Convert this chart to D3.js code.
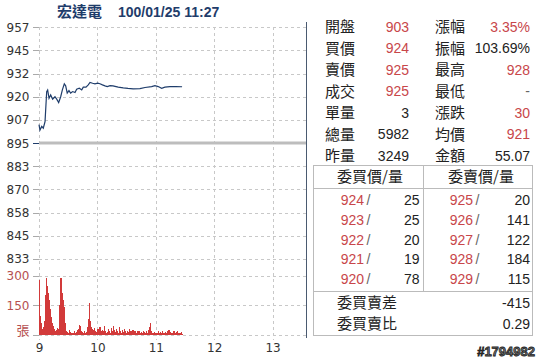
<!DOCTYPE html>
<html>
<head>
<meta charset="utf-8">
<script src="https://cdn.jsdelivr.net/npm/d3@7/dist/d3.min.js"></script>
<style>
  html, body { margin: 0; padding: 0; background: #fff; }
  svg { display: block; }
</style>
</head>
<body>
<div id="chart"></div>
<script>
// ---- data ----
const title = "宏達電";
const stamp = "100/01/25 11:27";
const prevClose = 895;

// minutes after 09:00, last price
const priceMinutes = [0, 1, 2.8, 4.4, 6.2, 7.9, 8.9, 10.3, 12, 14, 16.4, 18.2, 20.2, 22.3, 24, 26, 27.4, 29, 30.8, 32.5,
  34.6, 37, 38.7, 41.4, 43.9, 45.5, 48.3, 50.6, 52.4, 55.1, 57.5, 60.3, 62.6, 65.2, 67.8, 70.2, 73, 76, 81.4, 86.6,
  91.4, 96.8, 103.7, 108.9, 115.7, 119.1, 122.5, 126, 129.4, 134.5, 140.7, 147];
const priceValues = [905, 902, 904, 903, 906.6, 922.8, 923.7, 919.2, 921, 918.7, 920, 918.7, 916.9, 920, 923.7, 927, 925.9, 922, 923.3, 922,
  922.8, 922.3, 924.1, 924.6, 923.7, 925.2, 925.2, 926.4, 927.7, 927.3, 927, 927.3, 927, 926.4, 925.9, 925.5, 926, 925.9, 925.2, 924.8,
  924.5, 924.3, 924.4, 925, 925.5, 926, 925.5, 924.6, 925.2, 925.5, 925.5, 925.4];

// per-minute volume (張), minute 0 = 09:00
const volumes = [280, 95, 60, 30, 40, 70, 200, 290, 250, 210, 175, 130, 90, 60, 45, 30, 20, 25, 35, 15,
  30, 150, 290, 210, 175, 140, 60, 30, 20, 15, 10, 25, 15, 10, 8, 12, 20, 10, 15, 25,
  30, 50, 45, 20, 15, 10, 18, 12, 15, 40, 80, 160, 70, 40, 30, 25, 35, 20, 15, 10,
  30, 15, 40, 20, 12, 25, 18, 45, 20, 10, 15, 30, 22, 12, 35, 18, 48, 25, 15, 30,
  20, 10, 40, 18, 12, 25, 15, 30, 20, 10, 22, 15, 28, 12, 18, 10, 25, 15, 20, 12,
  10, 18, 14, 22, 10, 16, 12, 20, 14, 10, 18, 12, 25, 40, 60, 20, 12, 10, 15, 8,
  12, 10, 18, 8, 14, 10, 20, 12, 8, 15, 10, 12, 18, 25, 15, 10, 8, 12, 20, 10,
  8, 14, 22, 10, 12, 8, 15, 6];

const priceTicks = [957.5, 945, 932.5, 920, 907.5, 895, 882.5, 870, 857.5, 845, 832.5];
const priceTickLabels = ["957", "945", "932", "920", "907", "895", "883", "870", "858", "845", "833"];
const volTicks = [300, 150, 0];
const volTickLabels = ["300", "150", "張"];
const hourTicks = [0, 60, 120, 180, 240];
const hourLabels = ["9", "10", "11", "12", "13"];

const statLabelsL = ["開盤", "買價", "賣價", "成交", "單量", "總量", "昨量"];
const statValuesL = ["903", "924", "925", "925", "3", "5982", "3249"];
const statRedL = [true, true, true, true, false, false, false];
const statLabelsR = ["漲幅", "振幅", "最高", "最低", "漲跌", "均價", "金額"];
const statValuesR = ["3.35%", "103.69%", "928", "-", "30", "921", "55.07"];
const statRedR = [true, false, true, false, true, true, false];

const bidPrices = [924, 923, 922, 921, 920];
const bidVols = [25, 25, 20, 19, 78];
const askPrices = [925, 926, 927, 928, 929];
const askVols = [20, 141, 122, 184, 115];
const bookHeaders = ["委買價/量", "委賣價/量"];
const bookSummaryLabels = ["委買賣差", "委買賣比"];
const bookSummaryValues = ["-415", "0.29"];
const watermark = "#1794982";

// ---- drawing ----
const W = 543, H = 359;
const RED = "#c8464a", INK = "#222", NAVY = "#1f3d6b";
const CJK = "'Noto Sans CJK TC', 'Noto Sans CJK SC', sans-serif";
const NUM = "'Liberation Sans', Arial, sans-serif";
const AX = "'DejaVu Sans', Verdana, sans-serif";

const svg = d3.select("#chart").append("svg")
  .attr("width", W).attr("height", H);
svg.append("rect").attr("width", W).attr("height", H).attr("fill", "#fff");

const plotL = 39, plotR = 306;
const x = d3.scaleLinear().domain([0, 270]).range([plotL, 301.8]);
const yP = d3.scaleLinear().domain([832.5, 957.5]).range([258.8, 27.3]);
const yV = d3.scaleLinear().domain([0, 300]).range([335, 275.7]);

// title
svg.append("text").attr("x", 57).attr("y", 17)
  .attr("font-family", CJK).attr("font-size", 15).attr("font-weight", "bold")
  .attr("fill", NAVY).text(title);
svg.append("text").attr("x", 118).attr("y", 16.5)
  .attr("font-family", NUM).attr("font-size", 14).attr("font-weight", "bold")
  .attr("fill", NAVY).text(stamp);

const grid = svg.append("g").attr("stroke", "#c8c8c8").attr("stroke-dasharray", "3,3").attr("stroke-width", 1);

// horizontal price grid
grid.selectAll("line.hp").data(priceTicks).join("line").attr("class", "hp")
  .attr("x1", plotL).attr("x2", plotR)
  .attr("y1", d => Math.round(yP(d)) + 0.5).attr("y2", d => Math.round(yP(d)) + 0.5);
// volume grid
grid.selectAll("line.hv").data(volTicks).join("line").attr("class", "hv")
  .attr("x1", plotL).attr("x2", plotR)
  .attr("y1", d => Math.round(yV(d)) + 0.5).attr("y2", d => Math.round(yV(d)) + 0.5);
// vertical hour grid
grid.selectAll("line.vh").data(hourTicks).join("line").attr("class", "vh")
  .attr("x1", d => Math.round(x(d)) + 0.5).attr("x2", d => Math.round(x(d)) + 0.5)
  .attr("y1", 27).attr("y2", 340);

// axis ticks and labels (left)
const ax = svg.append("g");
ax.selectAll("line.tp").data(priceTicks).join("line").attr("class", "tp")
  .attr("x1", 33).attr("x2", plotL)
  .attr("y1", d => Math.round(yP(d)) + 0.5).attr("y2", d => Math.round(yP(d)) + 0.5)
  .attr("stroke", d => d === prevClose ? NAVY : "#aaa");
ax.selectAll("text.lp").data(priceTicks).join("text").attr("class", "lp")
  .attr("x", 29.5).attr("y", d => yP(d) + 4.5)
  .attr("text-anchor", "end").attr("font-family", AX).attr("font-size", 12)
  .attr("fill", "#333").text((d, i) => priceTickLabels[i]);
ax.selectAll("line.tv").data(volTicks).join("line").attr("class", "tv")
  .attr("x1", 33).attr("x2", plotL)
  .attr("y1", d => Math.round(yV(d)) + 0.5).attr("y2", d => Math.round(yV(d)) + 0.5)
  .attr("stroke", "#aaa");
ax.selectAll("text.lv").data(volTicks).join("text").attr("class", "lv")
  .attr("x", 29.5).attr("y", d => yV(d) + (d === 0 ? 0 : 4.5))
  .attr("text-anchor", "end").attr("font-family", (d, i) => i === 2 ? CJK : AX)
  .attr("font-size", (d, i) => i === 2 ? 13 : 12)
  .attr("fill", "#b65050").text((d, i) => volTickLabels[i]);
ax.selectAll("text.lx").data(hourTicks).join("text").attr("class", "lx")
  .attr("x", d => x(d) + 0.5).attr("y", 352)
  .attr("text-anchor", "middle").attr("font-family", AX).attr("font-size", 12)
  .attr("fill", "#333").text((d, i) => hourLabels[i]);

// previous close reference line
svg.append("line")
  .attr("x1", plotL).attr("x2", plotR)
  .attr("y1", yP(prevClose)).attr("y2", yP(prevClose))
  .attr("stroke", "#bdbdbd").attr("stroke-width", 3);

// volume bars
svg.append("g").attr("shape-rendering", "crispEdges")
  .selectAll("rect").data(volumes).join("rect")
  .attr("x", (d, i) => x(i))
  .attr("width", 1.2)
  .attr("y", d => yV(d))
  .attr("height", d => yV(0) - yV(d))
  .attr("fill", "#d23a3a");

// price line
const pts = priceMinutes.map((m, i) => [m, priceValues[i]]);
svg.append("path").datum(pts)
  .attr("fill", "none").attr("stroke", NAVY).attr("stroke-width", 1.2)
  .attr("d", d3.line().x(d => x(d[0])).y(d => yP(d[1])));

// panel divider
svg.append("line").attr("x1", 306.5).attr("x2", 306.5).attr("y1", 22).attr("y2", 338)
  .attr("stroke", "#4a5a70").attr("stroke-width", 1);

// stats table
const rowY = d3.scaleLinear().domain([0, 6]).range([26.5, 155.5]);
const stats = svg.append("g");
stats.selectAll("text.sl1").data(statLabelsL).join("text").attr("class", "sl1")
  .attr("x", 325).attr("y", (d, i) => rowY(i) + 5.5)
  .attr("font-family", CJK).attr("font-size", 15).attr("fill", INK).text(d => d);
stats.selectAll("text.sv1").data(statValuesL).join("text").attr("class", "sv1")
  .attr("x", 409).attr("y", (d, i) => rowY(i) + 5)
  .attr("text-anchor", "end").attr("font-family", NUM).attr("font-size", 14)
  .attr("fill", (d, i) => statRedL[i] ? RED : INK).text(d => d);
stats.selectAll("text.sl2").data(statLabelsR).join("text").attr("class", "sl2")
  .attr("x", 435).attr("y", (d, i) => rowY(i) + 5.5)
  .attr("font-family", CJK).attr("font-size", 15).attr("fill", INK).text(d => d);
stats.selectAll("text.sv2").data(statValuesR).join("text").attr("class", "sv2")
  .attr("x", 530).attr("y", (d, i) => rowY(i) + 5)
  .attr("text-anchor", "end").attr("font-family", NUM).attr("font-size", 14)
  .attr("fill", (d, i) => statRedR[i] ? RED : (statValuesR[i] === "-" ? "#666" : INK)).text(d => d);

// order book
const book = svg.append("g");
const bx0 = 313.5, bx1 = 423.5, bx2 = 532.5;
const by0 = 165.5, byH = 188.5, byS = 291.5, by1 = 335.5;
const bs = "#bbb";
book.append("rect").attr("x", bx0).attr("y", by0).attr("width", bx2 - bx0).attr("height", by1 - by0)
  .attr("fill", "none").attr("stroke", bs);
book.append("line").attr("x1", bx0).attr("x2", bx2).attr("y1", byH).attr("y2", byH).attr("stroke", bs);
book.append("line").attr("x1", bx0).attr("x2", bx2).attr("y1", byS).attr("y2", byS).attr("stroke", bs);
book.append("line").attr("x1", bx1).attr("x2", bx1).attr("y1", by0).attr("y2", byS).attr("stroke", bs);

book.selectAll("text.bh").data(bookHeaders).join("text").attr("class", "bh")
  .attr("x", (d, i) => i === 0 ? 370 : 481).attr("y", 181.5)
  .attr("text-anchor", "middle").attr("font-family", CJK).attr("font-size", 15)
  .attr("fill", INK).text(d => d);

const bookY = d3.scaleLinear().domain([0, 4]).range([200, 279]);
book.selectAll("text.bp").data(bidPrices).join("text").attr("class", "bp")
  .attr("x", 364).attr("y", (d, i) => bookY(i) + 5)
  .attr("text-anchor", "end").attr("font-family", NUM).attr("font-size", 14)
  .attr("fill", RED).text(d => d);
book.selectAll("text.bsl").data(bidPrices).join("text").attr("class", "bsl")
  .attr("x", 366.5).attr("y", (d, i) => bookY(i) + 5)
  .attr("font-family", NUM).attr("font-size", 14).attr("fill", "#666").text("/");
book.selectAll("text.bv").data(bidVols).join("text").attr("class", "bv")
  .attr("x", 419.5).attr("y", (d, i) => bookY(i) + 5)
  .attr("text-anchor", "end").attr("font-family", NUM).attr("font-size", 14)
  .attr("fill", INK).text(d => d);
book.selectAll("text.ap").data(askPrices).join("text").attr("class", "ap")
  .attr("x", 473).attr("y", (d, i) => bookY(i) + 5)
  .attr("text-anchor", "end").attr("font-family", NUM).attr("font-size", 14)
  .attr("fill", RED).text(d => d);
book.selectAll("text.asl").data(askPrices).join("text").attr("class", "asl")
  .attr("x", 475.5).attr("y", (d, i) => bookY(i) + 5)
  .attr("font-family", NUM).attr("font-size", 14).attr("fill", "#666").text("/");
book.selectAll("text.av").data(askVols).join("text").attr("class", "av")
  .attr("x", 530).attr("y", (d, i) => bookY(i) + 5)
  .attr("text-anchor", "end").attr("font-family", NUM).attr("font-size", 14)
  .attr("fill", INK).text(d => d);

book.selectAll("text.sumL").data(bookSummaryLabels).join("text").attr("class", "sumL")
  .attr("x", 337).attr("y", (d, i) => 302.5 + i * 21 + 5.5)
  .attr("font-family", CJK).attr("font-size", 15).attr("fill", INK).text(d => d);
book.selectAll("text.sumV").data(bookSummaryValues).join("text").attr("class", "sumV")
  .attr("x", 530).attr("y", (d, i) => 302.5 + i * 21 + 5)
  .attr("text-anchor", "end").attr("font-family", NUM).attr("font-size", 14)
  .attr("fill", INK).text(d => d);

// watermark
svg.append("text").attr("x", 535).attr("y", 355.5)
  .attr("text-anchor", "end").attr("font-family", NUM).attr("font-size", 13)
  .attr("font-weight", "bold").attr("fill", "#777").attr("stroke", "#222")
  .attr("stroke-width", 0.8).text(watermark);
</script>
</body>
</html>
